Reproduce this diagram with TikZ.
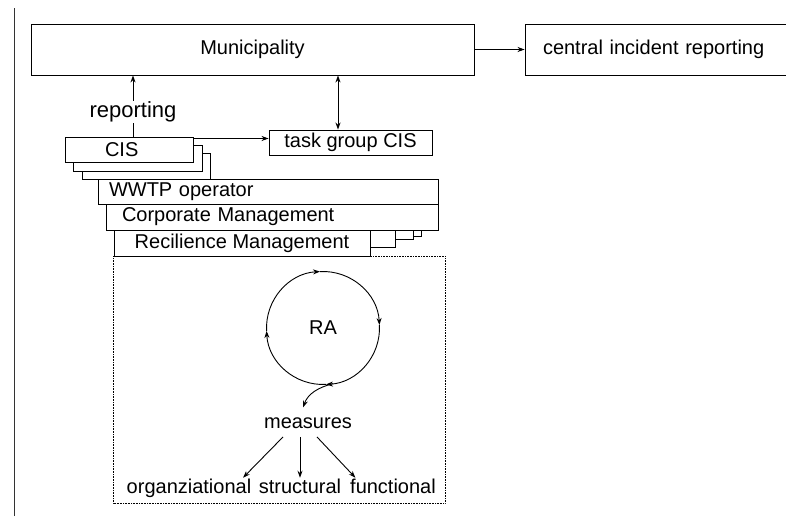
\documentclass[tikz,border=0pt]{standalone}
\usepackage{fontspec}
\setmainfont{Liberation Sans}
\usetikzlibrary{arrows.meta}

\begin{document}
\begin{tikzpicture}[x=1pt, y=1pt, line width=0.9pt,
        >={Stealth[length=7pt, width=5pt]},
        every node/.style={font=\fontsize{20pt}{24pt}\selectfont},
        boxnode/.style={draw, fill=white, inner ysep=0pt}]
        \useasboundingbox (0,0) rectangle (786,516);
        \clip (0,0) rectangle (786,516);
        \draw[line width=1pt, black!80] (14,0) -- (14,508);

        \node[boxnode, minimum width=443pt, minimum height=51pt] (muni) at (252.5,466.5) {Municipality};
        \node[boxnode, minimum width=275pt, minimum height=51pt, inner xsep=18pt, text width=239pt, align=left] (central) at (662.5,466.5) {central incident reporting};

        % CIS stack
        \node[boxnode, minimum width=128pt, minimum height=26pt] (cisb) at (146,350) {};
        \node[boxnode, minimum width=129pt, minimum height=26pt] (cisa) at (137.5,358) {};
        \node[boxnode, minimum width=128pt, minimum height=25pt, inner xsep=40pt, text width=48pt, align=left] (cis) at (129,366.5) {CIS};
        \node[boxnode, minimum width=163pt, minimum height=25pt] (task) at (350.5,373.5) {task group CIS};

        % organisation layers
        \node[boxnode, minimum width=340pt, minimum height=25pt, inner xsep=11pt, text width=318pt, align=left] (wwtp) at (268,324.5) {WWTP operator};
        \node[boxnode, minimum width=121pt, minimum height=11pt] (recic) at (360.5,285.5) {};
        \node[boxnode, minimum width=113pt, minimum height=14pt] (recib) at (356.5,284) {};
        \node[boxnode, minimum width=95pt, minimum height=22pt] (recia) at (347.5,280) {};
        \node[boxnode, minimum width=332pt, minimum height=26pt, inner xsep=16pt, text width=300pt, align=left] (corp) at (272,299) {Corporate Management};
        \node[boxnode, minimum width=256pt, minimum height=26pt] (reci) at (242,273) {Recilience Management};
        \draw[line width=0.6pt, densely dotted] (reci.south west) rectangle (445,13);

        % links
        \draw[->] (muni.east) -- (central.west);
        \coordinate (rep) at ([xshift=4pt]cis.north);
        \draw[->] (rep) -- node[pos=0.4, fill=white, inner sep=1pt, font=\fontsize{22pt}{26pt}\selectfont] (replbl) {reporting} (rep |- muni.south);
        \coordinate (grp) at ([xshift=-12.5pt]task.north);
        \draw[<->] (grp) -- (grp |- muni.south);
        \coordinate (cisout) at ([yshift=11pt]cis.east);
        \draw[->] (cisout) -- (cisout -| task.west);

        % RA cycle
        \node[circle, minimum size=113pt, inner sep=0pt, outer sep=0pt] (ra) at (323,188) {RA};
        \foreach \s/\e in {93/3, 183/93, 273/183, 363/273}
            \draw[->] ([shift={(\s:56.5pt)}]ra.center) arc[start angle=\s, end angle=\e, radius=56.5pt];

        \node[anchor=base] (measures) at (308,87) {measures};
        \draw[->] (ra.280) to[out=195, in=70] ([shift={(-5pt,7pt)}]measures.north);

        \node[anchor=base] (org) at (189,23) {organziational};
        \node[anchor=base] (struct) at (300,23) {structural};
        \node[anchor=base] (func) at (393,23) {functional};
        \draw[->] ([shift={(-25pt,-4pt)}]measures.south) -- ([shift={(-12pt,-3pt)}]org.north east);
        \draw[->] ([shift={(-8pt,-4pt)}]measures.south) -- ([yshift=-3pt]struct.north);
        \draw[->] ([shift={(9pt,-4pt)}]measures.south) -- ([shift={(9pt,-3pt)}]func.north west);
    \end{tikzpicture}
\end{document}
